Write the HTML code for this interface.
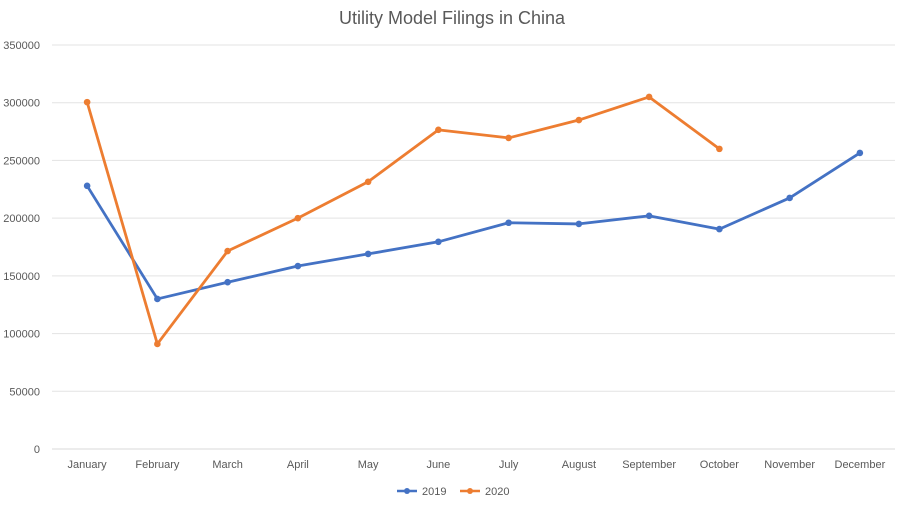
<!DOCTYPE html>
<html><head><meta charset="utf-8"><style>
body{margin:0;background:#fff;font-family:"Liberation Sans",sans-serif;}
svg text{font-family:"Liberation Sans",sans-serif;fill:#595959;}
</style></head><body>
<svg id="chart" width="904" height="507" xmlns="http://www.w3.org/2000/svg">
<rect width="904" height="507" fill="#fff"/>
<text x="452" y="24" text-anchor="middle" font-size="18" style="fill:#595959">Utility Model Filings in China</text>
<g id="grid"></g><g id="ylabels"></g><g id="xlabels"></g><g id="series"></g>
<g>
<g><line x1="397" y1="491" x2="417" y2="491" stroke="#4472C4" stroke-width="2.5"/><circle cx="407" cy="491" r="3" fill="#4472C4"/><text x="422" y="495" font-size="11">2019</text></g>
<g><line x1="460" y1="491" x2="480" y2="491" stroke="#ED7D31" stroke-width="2.5"/><circle cx="470" cy="491" r="3" fill="#ED7D31"/><text x="485" y="495" font-size="11">2020</text></g>
</g>
</svg>
<script>
const categories=["January","February","March","April","May","June","July","August","September","October","November","December"];
const values2019=[228000,130000,144500,158500,169000,179500,196000,195000,202000,190500,217500,256500];
const values2020=[300500,91000,171500,200000,231500,276500,269500,285000,305000,260000];
const yTicks=[0,50000,100000,150000,200000,250000,300000,350000];
const ns="http://www.w3.org/2000/svg";
const x0=52,x1=895,yBase=449,yTop=45,yMax=350000;
const step=(x1-x0)/categories.length;
function xs(i){return x0+step*(i+0.5);}
function ys(v){return yBase-(v/yMax)*(yBase-yTop);}
function mk(t,a,p){const e=document.createElementNS(ns,t);for(const k in a)e.setAttribute(k,a[k]);p.appendChild(e);return e;}
const grid=document.getElementById('grid'),yl=document.getElementById('ylabels'),xl=document.getElementById('xlabels'),sg=document.getElementById('series');
yTicks.forEach(v=>{
 const l=mk('line',{x1:x0,x2:x1,y1:ys(v),y2:ys(v),stroke:v===0?'#d9d9d9':'#e3e3e3','stroke-width':1},grid);
 
 
 const t=mk('text',{x:40,y:ys(v)+4,'text-anchor':'end','font-size':11},yl);
 t.textContent=v;
 
 
});
categories.forEach((c,i)=>{
 const t=mk('text',{x:xs(i),y:468,'text-anchor':'middle','font-size':11},xl);
 t.textContent=c;
 
 
});
function draw(vals,color,name){
 const g=mk('g',{},sg);
 
 
 const p=mk('polyline',{points:vals.map((v,i)=>xs(i)+','+ys(v)).join(' '),fill:'none',stroke:color,'stroke-width':2.8,'stroke-linejoin':'round'},g);
 
 
 vals.forEach((v,i)=>{
  const c=mk('circle',{cx:xs(i),cy:ys(v),r:3.3,fill:color},g);
  
  
 });
}
draw(values2019,'#4472C4','series-2019');
draw(values2020,'#ED7D31','series-2020');
</script>
</body></html>
